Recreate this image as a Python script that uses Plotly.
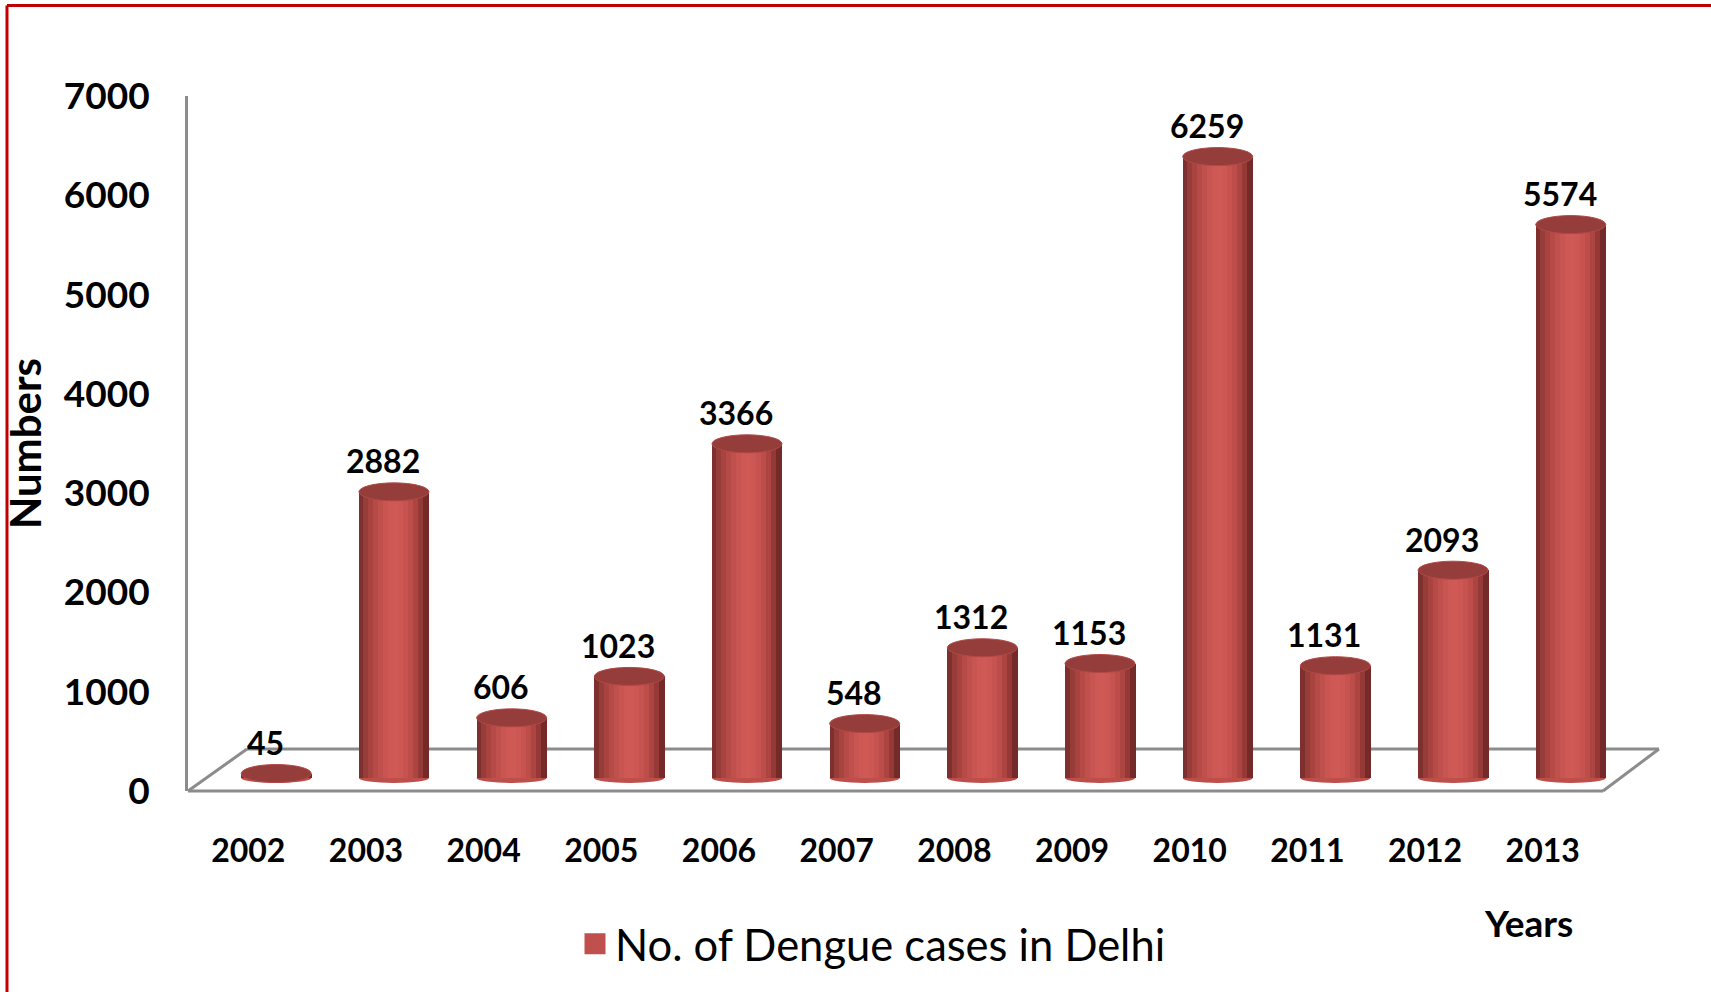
import plotly.graph_objects as go

# ---- data ----
years = ["2002", "2003", "2004", "2005", "2006", "2007", "2008", "2009", "2010", "2011", "2012", "2013"]
cases = [45, 2882, 606, 1023, 3366, 548, 1312, 1153, 6259, 1131, 2093, 5574]
y_ticks = [0, 1000, 2000, 3000, 4000, 5000, 6000, 7000]
series_name = "No. of Dengue cases in Delhi"

# ---- style ----
FONT = "Lato"
GREY = "#8c8c8c"
BASE_RED = "#c0504d"
strip_colors = [
    (125, 48, 46), (150, 60, 57), (168, 67, 64), (182, 74, 71), (192, 80, 76),
    (200, 85, 81), (205, 88, 84), (206, 89, 85), (204, 87, 83), (198, 83, 79),
    (188, 77, 73), (172, 68, 65), (148, 57, 54), (115, 42, 40),
]
BAR_W = 0.595
N = len(strip_colors)

W, H = 1711, 992
ML, MR, MT, MB = 188, 52, 96, 201
PW, PH = W - ML - MR, H - MT - MB
Y_MAX = 7000
px_per_unit = PH / Y_MAX
base_px = 13  # bars stand on the back of the floor
y2_lo = -base_px / px_per_unit
y2_range = [y2_lo, y2_lo + Y_MAX]


def px_x(p):
    return (p - ML) / PW


def px_y(p):
    return (H - MB - p) / PH


fig = go.Figure()

# cylinder body as shaded vertical strips
sw = BAR_W / N
for k, c in enumerate(strip_colors):
    fig.add_trace(go.Bar(
        x=years, y=cases, yaxis="y2",
        width=[sw * 1.2] * len(years),
        offset=-BAR_W / 2 + k * sw - (0.1 * sw if 0 < k else 0),
        marker=dict(color="rgb(%d,%d,%d)" % c, line=dict(width=0)),
        showlegend=False, hoverinfo="skip",
    ))

# legend entry
fig.add_trace(go.Scatter(
    x=[None], y=[None], mode="markers", name=series_name,
    marker=dict(symbol="square", size=16, color=BASE_RED,
                line=dict(color=BASE_RED, width=5)),
    showlegend=True,
))

shapes = []
cap_h = 9 / px_per_unit
bot_h = 5 / px_per_unit
for i, v in enumerate(cases):
    # bottom rounding
    shapes.append(dict(type="circle", xref="x", yref="y2", layer="below",
                       x0=i - BAR_W / 2, x1=i + BAR_W / 2, y0=-bot_h, y1=bot_h,
                       fillcolor="rgb(190,78,74)", line=dict(width=0)))
    # top cap
    shapes.append(dict(type="circle", xref="x", yref="y2", layer="above",
                       x0=i - BAR_W / 2, x1=i + BAR_W / 2, y0=v - cap_h, y1=v + cap_h,
                       fillcolor="rgb(148,61,58)", line=dict(color="rgb(178,72,69)", width=1)))

# floor (3-D base)
floor = [
    ((188, 791), (1603, 791)),
    ((188, 791), (247, 749)),
    ((247, 749), (1659, 749)),
    ((1659, 749), (1603, 791)),
]
for (xa, ya), (xb, yb) in floor:
    shapes.append(dict(type="line", xref="paper", yref="paper", layer="below",
                       x0=px_x(xa), y0=px_y(ya), x1=px_x(xb), y1=px_y(yb),
                       line=dict(color=GREY, width=3)))

# red frame (top and left edges)
shapes.append(dict(type="line", xref="paper", yref="paper",
                   x0=px_x(7), y0=px_y(5.5), x1=px_x(1730), y1=px_y(5.5),
                   line=dict(color="#c00000", width=3)))
shapes.append(dict(type="line", xref="paper", yref="paper",
                   x0=px_x(7), y0=px_y(5.5), x1=px_x(7), y1=px_y(1010),
                   line=dict(color="#c00000", width=3)))

annotations = []
for i, v in enumerate(cases):
    annotations.append(dict(x=i, y=v - y2_lo, xref="x", yref="y", text=str(v),
                            showarrow=False, yshift=31, xshift=-11,
                            yanchor="middle", xanchor="center",
                            font=dict(family=FONT, size=32, color="black", weight="bold")))
annotations.append(dict(x=px_x(1528), y=px_y(922), xref="paper", yref="paper",
                        text="Years", showarrow=False, xanchor="center", yanchor="middle",
                        font=dict(family=FONT, size=37, color="black", weight="bold")))

fig.update_layout(
    width=W, height=H,
    margin=dict(l=ML, r=MR, t=MT, b=MB, autoexpand=False),
    paper_bgcolor="white", plot_bgcolor="white",
    barmode="overlay", bargap=0,
    font=dict(family=FONT, color="black"),
    xaxis=dict(type="category", range=[-0.75, 11.75], showline=False, showgrid=False,
               zeroline=False, ticks="", ticklabelshift=-28, ticklabelstandoff=38,
               tickfont=dict(family=FONT, size=32, color="black", weight="bold"),
               fixedrange=True),
    yaxis=dict(range=[0, Y_MAX], tickvals=y_ticks, ticktext=[str(t) for t in y_ticks],
               showgrid=False, zeroline=False, showline=True, linecolor=GREY, linewidth=3,
               ticks="", ticklabelstandoff=28,
               tickfont=dict(family=FONT, size=37, color="black", weight="bold"),
               title=dict(text="Numbers", standoff=14,
                          font=dict(family=FONT, size=42, color="black", weight="bold"))),
    yaxis2=dict(range=y2_range, overlaying="y", showgrid=False, zeroline=False,
                showline=False, showticklabels=False, ticks=""),
    legend=dict(x=px_x(575), y=px_y(944), xanchor="left", yanchor="middle",
                orientation="h", bgcolor="rgba(0,0,0,0)",
                font=dict(family=FONT, size=43.5, color="black")),
    shapes=shapes,
    annotations=annotations,
)

fig.write_html("out.html", config={"displayModeBar": False},
               post_script="document.body.style.margin='0';document.body.style.overflow='hidden';")
